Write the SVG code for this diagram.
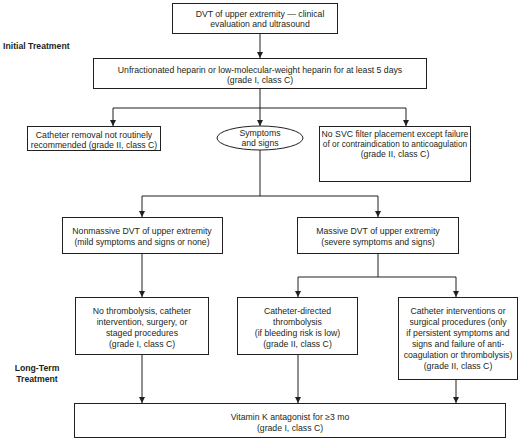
<svg xmlns="http://www.w3.org/2000/svg" width="520" height="442" viewBox="0 0 520 442">
<style>
.box{fill:#fff;stroke:#231f20;stroke-width:1}
.t{font-family:"Liberation Sans",Arial,sans-serif;font-size:8.7px;fill:#231f20;text-anchor:middle}
.h{font-family:"Liberation Sans",Arial,sans-serif;font-size:8.7px;font-weight:bold;fill:#231f20}
.c{fill:none;stroke:#231f20;stroke-width:1}
</style>
<defs>
<marker id="a" viewBox="0 0 6 8" refX="6" refY="4" markerWidth="6" markerHeight="8" orient="auto" markerUnits="userSpaceOnUse">
<path d="M0,1 L6,4 L0,7 Z" fill="#231f20"/>
</marker>
</defs>
<rect width="520" height="442" fill="#fff"/>
<text class="h" x="3" y="49">Initial Treatment</text>
<text class="h" x="37" y="371" text-anchor="middle">Long-Term</text>
<text class="h" x="37" y="382" text-anchor="middle">Treatment</text>
<g id="connectors">
<path class="c" d="M260,34 V58" marker-end="url(#a)"/>
<path class="c" d="M260,89 V126" marker-end="url(#a)"/>
<path class="c" d="M113,108 H406"/>
<path class="c" d="M113,108 V126" marker-end="url(#a)"/>
<path class="c" d="M406,108 V126" marker-end="url(#a)"/>
<path class="c" d="M260,150 V196 M142,196 H378"/>
<path class="c" d="M142,196 V217" marker-end="url(#a)"/>
<path class="c" d="M378,196 V217" marker-end="url(#a)"/>
<path class="c" d="M142,253 V297" marker-end="url(#a)"/>
<path class="c" d="M378,253 V277 M298,277 H456"/>
<path class="c" d="M298,277 V297" marker-end="url(#a)"/>
<path class="c" d="M456,277 V297" marker-end="url(#a)"/>
<path class="c" d="M142,355 V403" marker-end="url(#a)"/>
<path class="c" d="M298,355 V403" marker-end="url(#a)"/>
<path class="c" d="M456,380 V403" marker-end="url(#a)"/>
</g>
<g id="n1"><rect class="box" x="172.5" y="3.5" width="165" height="30"/>
<text class="t" x="260" y="17">DVT of upper extremity — clinical</text>
<text class="t" x="260" y="27">evaluation and ultrasound</text></g>
<g id="n2"><rect class="box" x="93.5" y="58.5" width="333" height="30"/>
<text class="t" x="260" y="73">Unfractionated heparin or low-molecular-weight heparin for at least 5 days</text>
<text class="t" x="260" y="83">(grade I, class C)</text></g>
<g id="n3"><rect class="box" x="27.5" y="126.5" width="133" height="24"/>
<text class="t" x="94" y="138">Catheter removal not routinely</text>
<text class="t" x="94" y="148">recommended (grade II, class C)</text></g>
<g id="n4"><ellipse class="box" cx="260" cy="138" rx="43" ry="12"/>
<text class="t" x="260" y="136">Symptoms</text>
<text class="t" x="260" y="146">and signs</text></g>
<g id="n5"><rect class="box" x="319.5" y="126.5" width="151" height="55"/>
<text class="t" x="395" y="137">No SVC filter placement except failure</text>
<text class="t" x="395" y="147" style="font-size:8.3px">of or contraindication to anticoagulation</text>
<text class="t" x="395" y="157">(grade II, class C)</text></g>
<g id="n6"><rect class="box" x="62.5" y="217.5" width="160" height="36"/>
<text class="t" x="142" y="234">Nonmassive DVT of upper extremity</text>
<text class="t" x="142" y="245">(mild symptoms and signs or none)</text></g>
<g id="n7"><rect class="box" x="297.5" y="217.5" width="161" height="36"/>
<text class="t" x="378" y="234">Massive DVT of upper extremity</text>
<text class="t" x="378" y="245">(severe symptoms and signs)</text></g>
<g id="n8"><rect class="box" x="75.5" y="297.5" width="133" height="57"/>
<text class="t" x="142" y="314">No thrombolysis, catheter</text>
<text class="t" x="142" y="325">intervention, surgery, or</text>
<text class="t" x="142" y="336">staged procedures</text>
<text class="t" x="142" y="347">(grade I, class C)</text></g>
<g id="n9"><rect class="box" x="237.5" y="297.5" width="120" height="57"/>
<text class="t" x="297.5" y="314">Catheter-directed</text>
<text class="t" x="297.5" y="325">thrombolysis</text>
<text class="t" x="297.5" y="336">(if bleeding risk is low)</text>
<text class="t" x="297.5" y="347">(grade II, class C)</text></g>
<g id="n10"><rect class="box" x="398.5" y="297.5" width="119" height="82"/>
<text class="t" x="458" y="314">Catheter interventions or</text>
<text class="t" x="458" y="325">surgical procedures (only</text>
<text class="t" x="458" y="336">if persistent symptoms and</text>
<text class="t" x="458" y="347">signs and failure of anti-</text>
<text class="t" x="458" y="358">coagulation or thrombolysis)</text>
<text class="t" x="458" y="369">(grade II, class C)</text></g>
<g id="n11"><rect class="box" x="74.5" y="403.5" width="431" height="34"/>
<text class="t" x="290" y="420">Vitamin K antagonist for ≥3 mo</text>
<text class="t" x="290" y="431">(grade I, class C)</text></g>
</svg>
